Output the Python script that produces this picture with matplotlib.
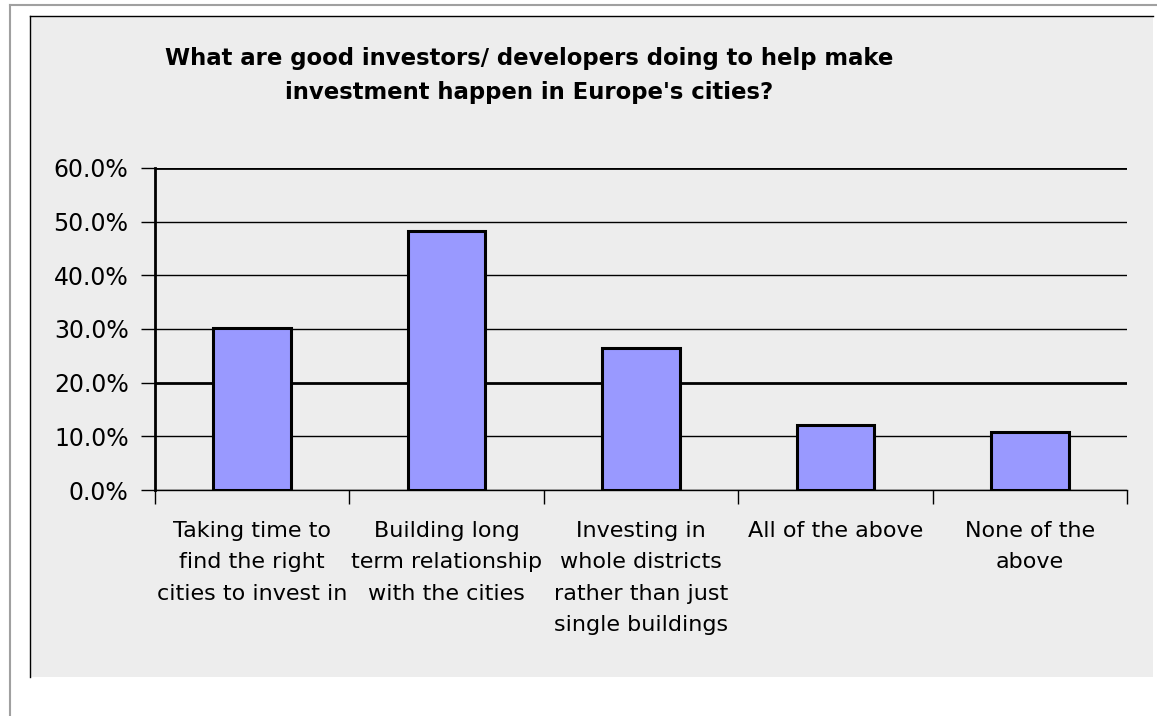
import matplotlib
matplotlib.use('Agg')
import matplotlib.pyplot as plt
from matplotlib.patches import Rectangle
from matplotlib.lines import Line2D
from matplotlib.ticker import FuncFormatter

# survey answers and share of respondents
categories = [
    'Taking time to\nfind the right\ncities to invest in',
    'Building long\nterm relationship\nwith the cities',
    'Investing in\nwhole districts\nrather than just\nsingle buildings',
    'All of the above',
    'None of the\nabove',
]
shares = [0.302, 0.483, 0.265, 0.121, 0.108]
y_ticks = [0.0, 0.1, 0.2, 0.3, 0.4, 0.5, 0.6]

title = ("What are good investors/ developers doing to help make\n"
         "investment happen in Europe's cities?")

fig = plt.figure(figsize=(11.57, 7.16), dpi=100)
fig.patch.set_facecolor('white')

W, H = 1157, 716


def fx(px):
    return px / W


def fy(py):
    return 1 - py / H


# outer light frame
fig.add_artist(Line2D([fx(9.5), 1], [fy(4.5), fy(4.5)], color='#a0a0a0', lw=1.5))
fig.add_artist(Line2D([fx(9.5), fx(9.5)], [fy(4.5), 0], color='#a0a0a0', lw=1.5))

# grey chart area with black top/left border
fig.add_artist(Rectangle((fx(30), fy(677)), fx(1153) - fx(30), fy(16) - fy(677),
                         facecolor='#ededed', edgecolor='none', zorder=0))
fig.add_artist(Line2D([fx(30), fx(1153)], [fy(16), fy(16)], color='black', lw=1))
fig.add_artist(Line2D([fx(30), fx(30)], [fy(16), fy(677)], color='black', lw=1))

ax = fig.add_axes([fx(155), fy(490), fx(1127) - fx(155), fy(168) - fy(490)])
ax.set_facecolor('none')

x = range(len(categories))
ax.bar(x, shares, width=0.4, color='#9999ff', edgecolor='black', linewidth=2.2, zorder=3)

ax.set_xlim(-0.5, len(categories) - 0.5)
ax.set_ylim(0, 0.6)
ax.set_yticks(y_ticks)
ax.yaxis.set_major_formatter(FuncFormatter(lambda v, p: f'{v * 100:.1f}%'))
ax.grid(axis='y', color='black', linewidth=1, zorder=1)
for val, line in zip(ax.get_yticks(), ax.get_ygridlines()):
    if round(val, 2) in (0.2, 0.6):
        line.set_linewidth(2)

ax.set_xticks(list(x))
ax.set_xticklabels(categories, fontsize=16, linespacing=1.72)
ax.set_xticks([i - 0.5 for i in range(len(categories) + 1)], minor=True)
ax.tick_params(axis='x', which='major', length=0, pad=22)
ax.tick_params(axis='x', which='minor', length=10, width=1, direction='out', color='black')
ax.tick_params(axis='y', length=10, width=1, direction='out', labelsize=17, pad=9)

for side in ('top', 'right'):
    ax.spines[side].set_visible(False)
ax.spines['left'].set_linewidth(2)
ax.spines['bottom'].set_linewidth(1)

fig.text(fx(529), fy(47), title, ha='center', va='top', fontsize=16.4,
         fontweight='bold', linespacing=1.6)

fig.savefig('out.png', dpi=100, facecolor='white')
